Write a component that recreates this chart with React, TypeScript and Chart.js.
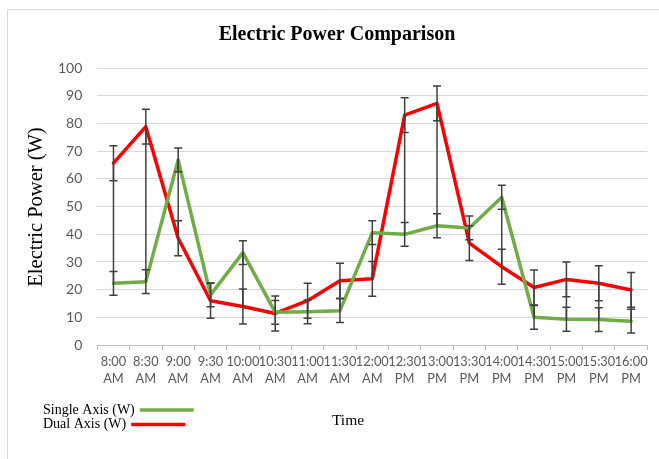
import React, { useEffect, useRef } from "react";
import { Chart, registerables } from "chart.js";

Chart.register(...registerables);

// ---- data ----
const categories: string[][] = [
  ["8:00", "AM"], ["8:30", "AM"], ["9:00", "AM"], ["9:30", "AM"], ["10:00", "AM"],
  ["10:30", "AM"], ["11:00", "AM"], ["11:30", "AM"], ["12:00", "AM"], ["12:30", "PM"],
  ["13:00", "PM"], ["13:30", "PM"], ["14:00", "PM"], ["14:30", "PM"], ["15:00", "PM"],
  ["15:30", "PM"], ["16:00", "PM"],
];
const singleAxis = [22.3, 22.9, 66.9, 18.1, 33.4, 11.8, 12.0, 12.4, 40.6, 40.0, 43.1, 42.3, 53.4, 10.0, 9.3, 9.2, 8.6];
const dualAxis = [65.7, 78.9, 38.6, 16.0, 13.9, 11.4, 16.0, 23.2, 23.9, 83.1, 87.3, 36.8, 28.3, 20.8, 23.7, 22.3, 19.9];
const singleErr = [4.3, 4.3, 4.3, 4.3, 4.3, 4.3, 4.3, 4.3, 4.3, 4.3, 4.3, 4.3, 4.3, 4.3, 4.3, 4.3, 4.3];
const dualErr = [6.3, 6.3, 6.3, 6.3, 6.3, 6.3, 6.3, 6.3, 6.3, 6.3, 6.3, 6.3, 6.3, 6.3, 6.3, 6.3, 6.3];
const yMin = 0;
const yMax = 100;
const yStep = 10;

const titleText = "Electric Power Comparison";
const yTitle = "Electric Power (W)";
const xTitle = "Time";
const seriesNames = ["Single Axis (W)", "Dual Axis (W)"];

const GREEN = "#70ad47";
const RED = "#ff0000";
const SERIF = "'Liberation Serif', 'Times New Roman', serif";
const SANS = "Lato, 'Open Sans', sans-serif";

const decorPlugin = {
  id: "decor",
  afterDatasetsDraw(chart: any) {
    const ctx = chart.ctx as CanvasRenderingContext2D;
    const ys = chart.scales.y;
    const m0 = chart.getDatasetMeta(0);
    const m1 = chart.getDatasetMeta(1);
    ctx.save();
    ctx.strokeStyle = "#404040";
    ctx.lineWidth = 1.5;
    // high-low lines
    m0.data.forEach((p: any, i: number) => {
      const q = m1.data[i];
      ctx.beginPath();
      ctx.moveTo(p.x, p.y);
      ctx.lineTo(q.x, q.y);
      ctx.stroke();
    });
    // error bars
    const sets: [number[], number[], any][] = [
      [singleAxis, singleErr, m0],
      [dualAxis, dualErr, m1],
    ];
    sets.forEach(([vals, errs, meta]) => {
      vals.forEach((v, i) => {
        const x = meta.data[i].x;
        const top = ys.getPixelForValue(v + errs[i]);
        const bot = ys.getPixelForValue(v - errs[i]);
        ctx.beginPath();
        ctx.moveTo(x, top);
        ctx.lineTo(x, bot);
        ctx.moveTo(x - 4, top);
        ctx.lineTo(x + 4, top);
        ctx.moveTo(x - 4, bot);
        ctx.lineTo(x + 4, bot);
        ctx.stroke();
      });
    });
    ctx.restore();
  },
  afterDraw(chart: any) {
    const ctx = chart.ctx as CanvasRenderingContext2D;
    ctx.save();
    // outer border
    ctx.strokeStyle = "#d9d9d9";
    ctx.lineWidth = 1;
    ctx.beginPath();
    ctx.moveTo(7.5, 459);
    ctx.lineTo(7.5, 9.5);
    ctx.lineTo(659, 9.5);
    ctx.stroke();

    // title
    ctx.fillStyle = "#000";
    ctx.font = `bold 20px ${SERIF}`;
    ctx.textAlign = "center";
    ctx.textBaseline = "middle";
    ctx.fillText(titleText, 337, 35);

    // y title
    ctx.save();
    ctx.translate(37, 207);
    ctx.rotate(-Math.PI / 2);
    ctx.font = `20.5px ${SERIF}`;
    ctx.fillText(yTitle, 0, 0);
    ctx.restore();

    // x title
    ctx.font = `15.5px ${SERIF}`;
    ctx.textAlign = "center";
    ctx.fillText(xTitle, 348, 421);

    // legend
    ctx.font = `14px ${SERIF}`;
    ctx.textAlign = "left";
    const items = [
      { text: seriesNames[0], color: GREEN, y: 410 },
      { text: seriesNames[1], color: RED, y: 424.5 },
    ];
    items.forEach((it) => {
      ctx.fillStyle = "#000";
      ctx.fillText(it.text, 43, it.y);
      const w = ctx.measureText(it.text).width;
      ctx.strokeStyle = it.color;
      ctx.lineWidth = 3.5;
      ctx.beginPath();
      ctx.moveTo(43 + w + 5, it.y);
      ctx.lineTo(43 + w + 59, it.y);
      ctx.stroke();
    });
    ctx.restore();
  },
};

export default function App() {
  const ref = useRef<HTMLCanvasElement | null>(null);
  useEffect(() => {
    if (!ref.current) return;
    const chart = new Chart(ref.current, {
      type: "line",
      data: {
        labels: categories as any,
        datasets: [
          {
            label: seriesNames[0],
            data: singleAxis,
            borderColor: GREEN,
            backgroundColor: GREEN,
            borderWidth: 3.5,
            pointRadius: 0,
            tension: 0,
            borderJoinStyle: "round",
            borderCapStyle: "round",
          },
          {
            label: seriesNames[1],
            data: dualAxis,
            borderColor: RED,
            backgroundColor: RED,
            borderWidth: 3.5,
            pointRadius: 0,
            tension: 0,
            borderJoinStyle: "round",
            borderCapStyle: "round",
          },
        ],
      },
      options: {
        animation: false,
        responsive: false,
        layout: { padding: { left: 0, right: 11.7, top: 68.3, bottom: 0 } },
        plugins: {
          legend: { display: false },
          title: { display: false },
          tooltip: { enabled: false },
        },
        scales: {
          x: {
            type: "category",
            offset: true,
            grid: {
              display: true,
              drawOnChartArea: false,
              drawTicks: true,
              tickLength: 5,
              offset: true,
              color: "#bfbfbf",
            },
            border: { display: true, color: "#bfbfbf" },
            ticks: {
              maxRotation: 0,
              minRotation: 0,
              autoSkip: false,
              padding: 3,
              color: "#595959",
              font: { family: SANS, size: 12.8, lineHeight: 1.35 },
            },
            afterFit: (s: any) => {
              s.height = 114;
            },
          },
          y: {
            min: yMin,
            max: yMax,
            ticks: {
              stepSize: yStep,
              padding: 15,
              color: "#595959",
              font: { family: SANS, size: 14 },
            },
            grid: { color: "#d9d9d9", drawTicks: false, lineWidth: 1 },
            border: { display: false },
            afterFit: (s: any) => {
              s.width = 97.3;
            },
          },
        },
      },
      plugins: [decorPlugin],
    } as any);
    return () => chart.destroy();
  }, []);
  return (
    <div style={{ position: "absolute", left: 0, top: 0, width: 659, height: 459, background: "#fff" }}>
      <canvas ref={ref} width={659} height={459} style={{ display: "block" }} />
    </div>
  );
}
